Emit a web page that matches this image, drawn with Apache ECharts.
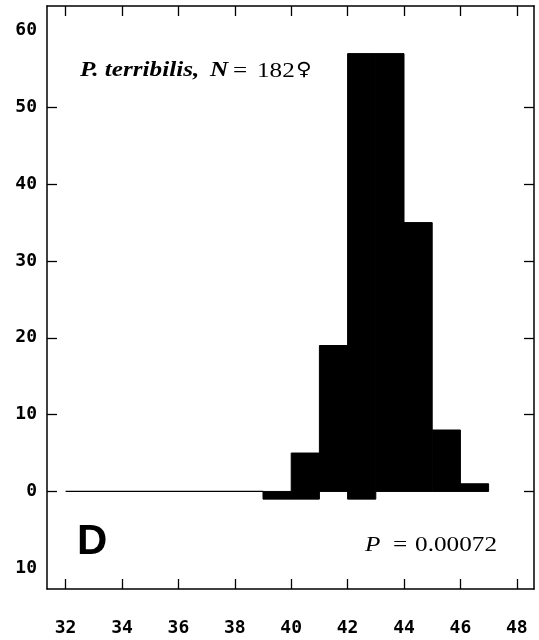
<!DOCTYPE html>
<html>
<head>
<meta charset="utf-8">
<script src="https://cdn.jsdelivr.net/npm/echarts@6/dist/echarts.min.js"></script>
<style>
  html, body { margin: 0; padding: 0; background: #fff; }
  #chart { width: 539px; height: 640px; }
</style>
</head>
<body>
<div id="chart"></div>
<script>
// histogram bins (1 unit wide), counts above and below zero
const binStart = [39, 40, 41, 42, 43, 44, 45, 46]
const upCounts = [0, 5, 19, 57, 57, 35, 8, 1]
const downCounts = [1, 1, 0, 1, 0, 0, 0, 0]
// empty stretch drawn as a flat line at zero
const emptyRange = [32, 39]

const xTicks = [32, 34, 36, 38, 40, 42, 44, 46, 48]
const yLabels = [-10, 0, 10, 20, 30, 40, 50, 60]
const yTicks = [0, 10, 20, 30, 40, 50]

const chart = echarts.init(document.getElementById('chart'))

const axisFont = {
  fontFamily: 'DejaVu Sans Mono',
  fontWeight: 'bold',
  fontSize: 18,
  color: '#000'
}
const lineStyle = { color: '#000', width: 1.5 }
const tickStyle = { color: '#000', width: 1.3 }

const binData = binStart.map((s, i) => [s, upCounts[i], downCounts[i]])

const barRect = (api, x0, top, bottom) => {
  const a = api.coord([x0, top])
  const b = api.coord([x0 + 1, bottom])
  return {
    type: 'rect',
    shape: { x: a[0], y: a[1], width: b[0] - a[0], height: b[1] - a[1] },
    style: { fill: '#000', stroke: '#000', lineWidth: 1 }
  }
}

const renderBin = (params, api) => {
  const x0 = api.value(0)
  const up = api.value(1)
  const down = api.value(2)
  const children = []
  if (up > 0) children.push(barRect(api, x0, up, 0))
  if (down > 0) children.push(barRect(api, x0, 0, -down))
  return { type: 'group', children }
}

const serif = 'Liberation Serif'
// the original type is set a bit wide, so stretch it horizontally
const txt = (x, y, text, extra) => ({
  type: 'text',
  x, y,
  scaleX: 1.2,
  style: Object.assign({
    text,
    fontFamily: serif,
    fontSize: 21,
    fill: '#000',
    verticalAlign: 'middle'
  }, extra)
})

const option = {
  animation: false,
  grid: { left: 47, right: 5, top: 6, bottom: 51 },
  xAxis: [{
    type: 'value',
    position: 'bottom',
    min: 31.34,
    max: 48.61,
    axisLine: { show: true, onZero: false, lineStyle },
    axisTick: { show: true, inside: true, length: 10, customValues: xTicks, lineStyle: tickStyle },
    axisLabel: { customValues: xTicks, margin: 30, ...axisFont },
    splitLine: { show: false }
  }, {
    type: 'value',
    position: 'top',
    min: 31.34,
    max: 48.61,
    axisLine: { show: true, onZero: false, lineStyle },
    axisTick: { show: true, inside: true, length: 10, customValues: xTicks, lineStyle: tickStyle },
    axisLabel: { show: false },
    splitLine: { show: false }
  }],
  yAxis: [{
    type: 'value',
    position: 'left',
    min: -12.7,
    max: 63.2,
    axisLine: { show: true, onZero: false, lineStyle },
    axisTick: { show: true, inside: true, length: 10, customValues: yTicks, lineStyle: tickStyle },
    axisLabel: {
      customValues: yLabels,
      margin: 10,
      formatter: v => String(Math.abs(v)),
      ...axisFont
    },
    splitLine: { show: false }
  }, {
    type: 'value',
    position: 'right',
    min: -12.7,
    max: 63.2,
    axisLine: { show: true, onZero: false, lineStyle },
    axisTick: { show: true, inside: true, length: 10, customValues: yTicks, lineStyle: tickStyle },
    axisLabel: { show: false },
    splitLine: { show: false }
  }],
  series: [{
    type: 'line',
    data: [[emptyRange[0], 0], [emptyRange[1], 0]],
    symbol: 'none',
    silent: true,
    lineStyle: { color: '#000', width: 1.3 }
  }, {
    type: 'custom',
    renderItem: renderBin,
    data: binData,
    encode: { x: 0, y: 1 },
    silent: true
  }],
  graphic: [
    txt(80, 71, 'P. terribilis,', { fontStyle: 'italic', fontWeight: 'bold' }),
    txt(210, 71, 'N', { fontStyle: 'italic', fontWeight: 'bold' }),
    txt(233, 71, '='),
    txt(257, 71, '182'),
    txt(296, 70, '♀', { fontFamily: 'DejaVu Sans', fontSize: 18 }),
    txt(365, 545, 'P', { fontStyle: 'italic' }),
    txt(393, 545, '='),
    txt(497, 545, '0.00072', { align: 'right' }),
    {
      type: 'text',
      x: 77,
      y: 542,
      style: {
        text: 'D',
        fontFamily: 'Liberation Sans',
        fontWeight: 'bold',
        fontSize: 42,
        fill: '#000',
        verticalAlign: 'middle'
      }
    }
  ]
}

chart.setOption(option)
</script>
</body>
</html>
